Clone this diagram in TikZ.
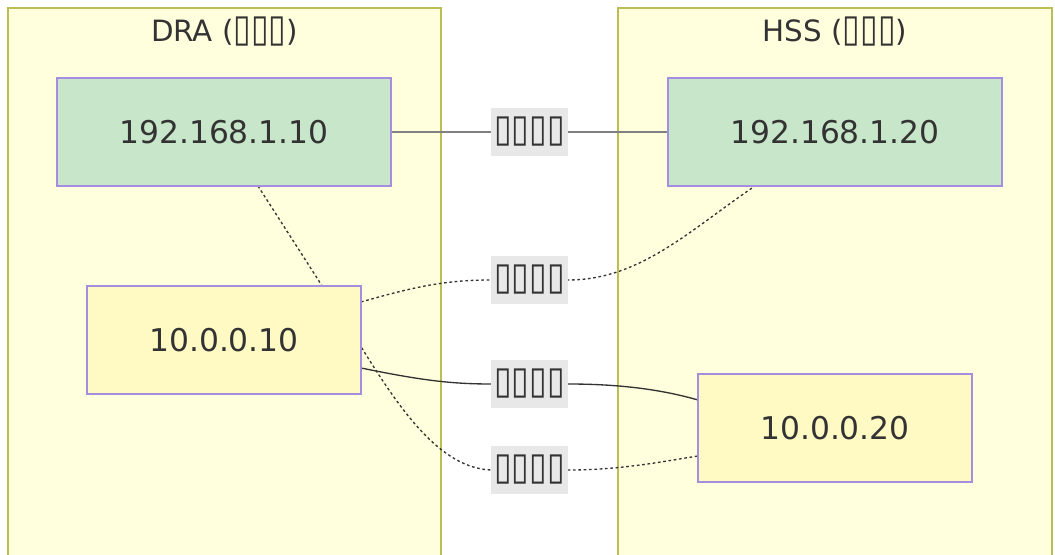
\documentclass[tikz,border=0pt]{standalone}
\usepackage{fontspec}
\usepackage{graphicx}
\setmainfont{DejaVu Sans}
\definecolor{clfill}{HTML}{FFFFDE}
\definecolor{cldraw}{HTML}{BDBD55}
\definecolor{nodedraw}{HTML}{A58EE0}
\definecolor{greenfill}{HTML}{C8E6C9}
\definecolor{yellowfill}{HTML}{FFF9C4}
\definecolor{txt}{HTML}{333333}
\definecolor{lblbg}{HTML}{E8E8E8}
\newcommand\tofuglyphs[1]{\scalebox{1}[1.2]{\fontsize{24}{28}\selectfont #1}}
\tikzset{
  cluster/.style={draw=cldraw, fill=clfill, line width=1.5pt},
  cltitle/.style={text=txt, font=\fontsize{22}{26}\selectfont, inner sep=0pt},
  host/.style={draw=nodedraw, line width=1.5pt, text=txt, font=\fontsize{23.5}{27}\selectfont, inner sep=0pt, minimum height=81pt},
  widehost/.style={host, minimum width=250.5pt, fill=greenfill},
  narrowhost/.style={host, minimum width=205.5pt, fill=yellowfill},
  elabel/.style={fill=lblbg, text=txt, inner sep=0pt, minimum width=57.75pt, minimum height=36pt},
  solidlink/.style={draw=txt, line width=1pt},
  thicklink/.style={draw=gray, line width=2pt},
  dotlink/.style={draw=txt, line width=1pt, dash pattern=on 2pt off 2pt},
}
\begin{document}
\begin{tikzpicture}[x=0.75pt,y=-0.75pt]
\useasboundingbox (0,0) rectangle (1055,555);
\fill[white] (0,0) rectangle (1055,555);
% clusters
\draw[cluster] (8,8) rectangle (441,565);
\draw[cluster] (618,8) rectangle (1052,565);
\node[cltitle] (t1) at (224.5,32) {DRA (\tofuglyphs{▯▯▯})};
\node[cltitle] (t2) at (835,32) {HSS (\tofuglyphs{▯▯▯})};
% label anchors
\coordinate (l1p) at (529.5,132);
\coordinate (l2p) at (529.5,280);
\coordinate (l3p) at (529.5,384);
\coordinate (l4p) at (529.5,470);
% edges under nodes
\coordinate (l2w) at (491,280);
\coordinate (l2e) at (568,280);
\coordinate (l3w) at (491,384);
\coordinate (l3e) at (568,384);
\coordinate (l4w) at (491,470);
\coordinate (l4e) at (568,470);
\coordinate (s1) at (258,186);
\coordinate (bend) at (360,345);
\coordinate (s2) at (361,302);
\coordinate (e2) at (755,186);
\coordinate (s4) at (361,368);
\coordinate (e4) at (698,400);
\coordinate (e3) at (698,456);
\draw[dotlink] (s1) -- (bend) .. controls (400,410) and (440,468) .. (l4w) -- (l4e) .. controls (620,470) and (660,462) .. (e3);
\draw[dotlink] (s2) .. controls (420,285) and (450,280) .. (l2w) -- (l2e) .. controls (640,280) and (690,230) .. (e2);
\draw[solidlink] (s4) .. controls (420,380) and (450,384) .. (l3w) -- (l3e) .. controls (630,384) and (670,392) .. (e4);
% nodes
\node[widehost] (a) at (224,132) {192.168.1.10};
\node[widehost] (b) at (835,132) {192.168.1.20};
\node[narrowhost] (c) at (224,340) {10.0.0.10};
\node[narrowhost] (d) at (835,428) {10.0.0.20};
\draw[thicklink] (a.east) -- (b.west);
% edge labels
\node[elabel] (l1) at (l1p) {\tofuglyphs{▯▯▯▯}};
\node[elabel] (l2) at (l2p) {\tofuglyphs{▯▯▯▯}};
\node[elabel] (l3) at (l3p) {\tofuglyphs{▯▯▯▯}};
\node[elabel] (l4) at (l4p) {\tofuglyphs{▯▯▯▯}};
\end{tikzpicture}
\end{document}
